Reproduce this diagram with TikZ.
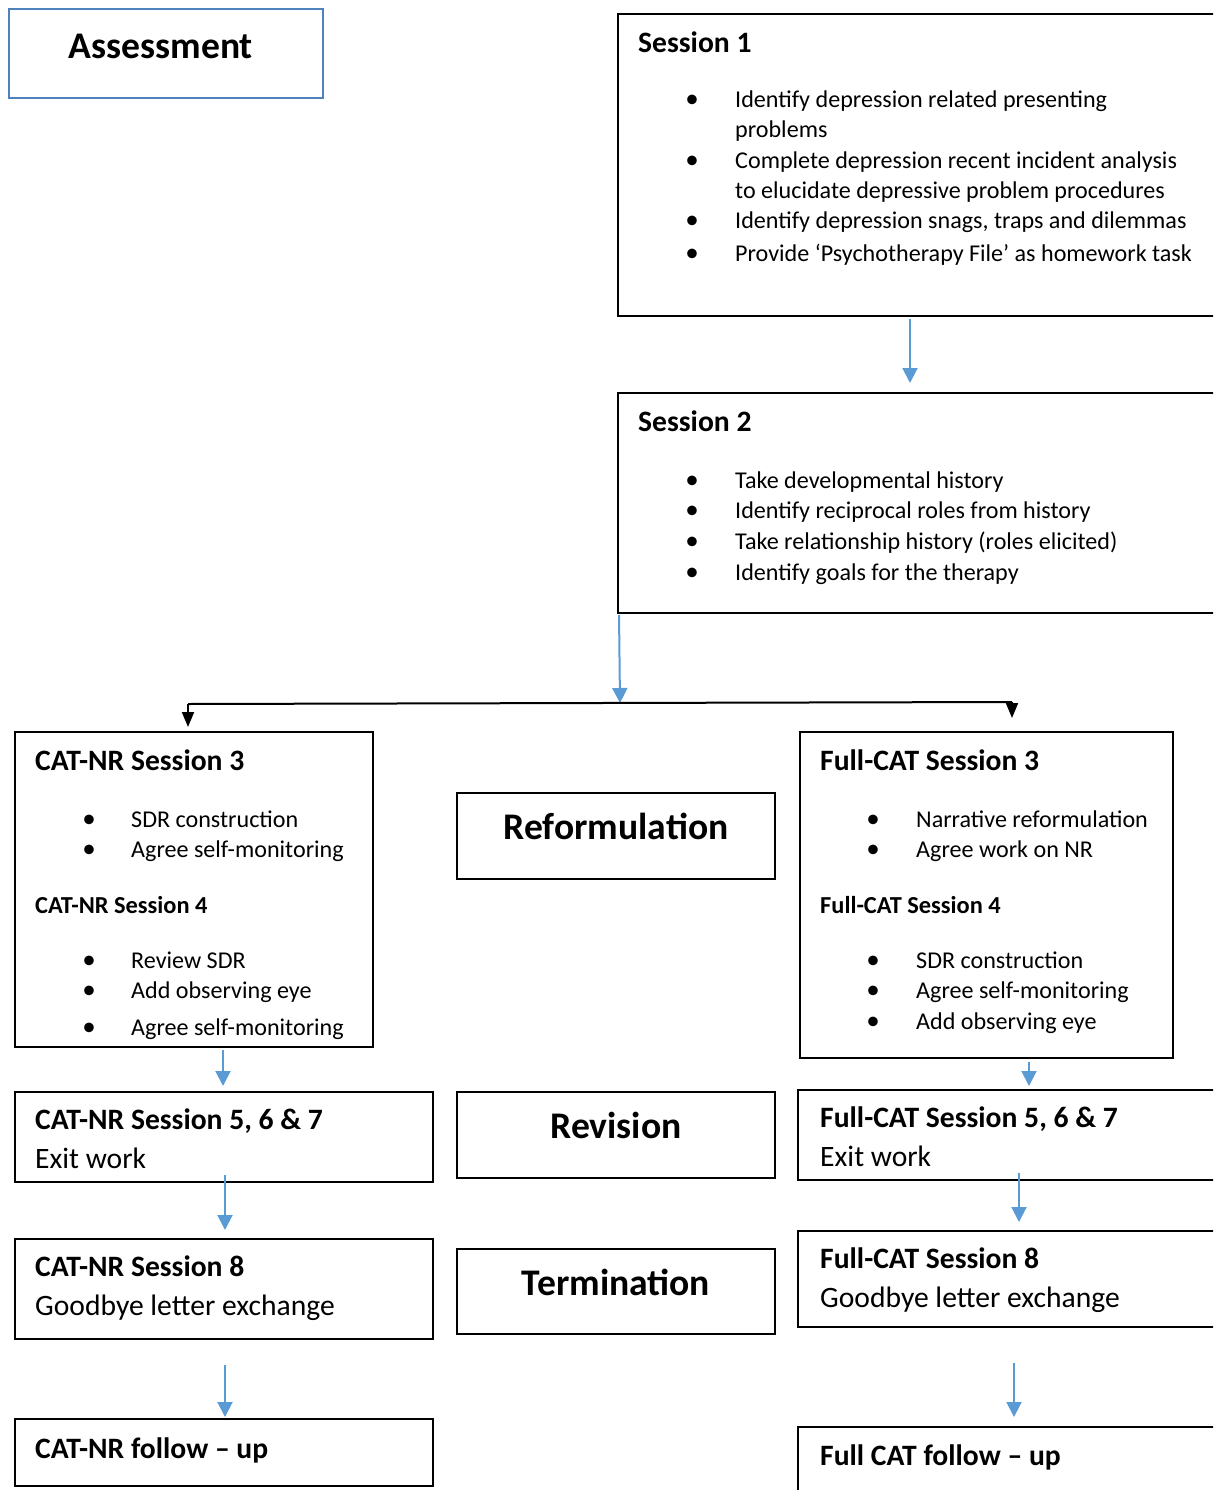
\documentclass[tikz,border=0pt]{standalone}
\usepackage{fontspec}
\setmainfont{Carlito}
\usetikzlibrary{arrows.meta}
\definecolor{arrowblue}{HTML}{5B9BD5}
\definecolor{frameblue}{HTML}{4F81BD}
\begin{document}
\begin{tikzpicture}[x=1pt,y=-1pt,
  box/.style={draw=black, line width=1.3pt, rectangle, inner sep=0pt, outer sep=0pt, anchor=north west},
  headtext/.style={anchor=base west, inner sep=0pt, font=\fontsize{29.6}{34}\selectfont\bfseries},
  itemtext/.style={anchor=base west, inner sep=0pt, font=\fontsize{24.1}{29}\selectfont},
  subtext/.style={anchor=base west, inner sep=0pt, font=\fontsize{24.4}{29}\selectfont\bfseries},
  plaintext/.style={anchor=base west, inner sep=0pt, font=\fontsize{29.6}{34}\selectfont},
  titletext/.style={anchor=base, inner sep=0pt, font=\fontsize{37.6}{44}\selectfont\bfseries},
  bulletmark/.style={anchor=base, inner sep=0pt, font=\fontsize{27}{30}\selectfont},
  barrow/.style={draw=arrowblue, line width=2pt, -{Triangle[width=15pt,length=15pt]}},
  karrow/.style={draw=black, line width=2pt, -{Triangle[width=12pt,length=15pt]}},
  kline/.style={draw=black, line width=2pt},
]
\useasboundingbox (0,0) rectangle (1213,1490);
\clip (0,0) rectangle (1213,1490);

% boxes
\node[box, draw=frameblue, line width=2.5pt, minimum width=314pt, minimum height=89pt] (ass) at (9,9) {};
\node[box, minimum width=700pt, minimum height=302pt] (s1) at (618,14) {};
\node[box, minimum width=700pt, minimum height=220pt] (s2) at (618,393) {};
\node[box, minimum width=358pt, minimum height=315pt] (l3) at (15,732) {};
\node[box, minimum width=318pt, minimum height=86pt] (rf) at (457,793) {};
\node[box, minimum width=373pt, minimum height=326pt] (r3) at (800,732) {};
\node[box, minimum width=418pt, minimum height=90pt] (l5) at (15,1092) {};
\node[box, minimum width=318pt, minimum height=86pt] (rv) at (457,1092) {};
\node[box, minimum width=500pt, minimum height=90pt] (r5) at (798,1090) {};
\node[box, minimum width=418pt, minimum height=100pt] (l8) at (15,1239) {};
\node[box, minimum width=318pt, minimum height=85pt] (tm) at (457,1249) {};
\node[box, minimum width=500pt, minimum height=96pt] (r8) at (798,1231) {};
\node[box, minimum width=418pt, minimum height=67pt] (lf) at (15,1419) {};
\node[box, minimum width=500pt, minimum height=100pt] (rfu) at (798,1427) {};

% titles
\node[titletext] (tAss) at (161,59) {Assessment};
\node[titletext] (tRf) at (616,839) {Reformulation};
\node[titletext] (tRv) at (616,1138) {Revision};
\node[titletext] (tTm) at (616,1295) {Termination};

% Session 1
\node[headtext] (h1) at (638,52.5) {Session 1};
\foreach \yy in {108,168,228,261} \node[bulletmark] at (692,\yy) {•};
\node[itemtext] (a1) at (735,108) {Identify depression related presenting};
\node[itemtext] (a2) at (735,138) {problems};
\node[itemtext] (a3) at (735,168) {Complete depression recent incident analysis};
\node[itemtext] (a4) at (735,198) {to elucidate depressive problem procedures};
\node[itemtext] (a5) at (735,228) {Identify depression snags, traps and dilemmas};
\node[itemtext] (a6) at (735,261) {Provide ‘Psychotherapy File’ as homework task};

% Session 2
\node[headtext] (h2) at (638,431.5) {Session 2};
\foreach \yy in {488,518,549,580} \node[bulletmark] at (692,\yy) {•};
\node[itemtext] (b1) at (735,488) {Take developmental history};
\node[itemtext] (b2) at (735,518) {Identify reciprocal roles from history};
\node[itemtext] (b3) at (735,549) {Take relationship history (roles elicited)};
\node[itemtext] (b4) at (735,580) {Identify goals for the therapy};

% CAT-NR Session 3/4
\node[headtext] (hl3) at (35,770.5) {CAT-NR Session 3};
\foreach \yy in {827,857,968,998,1035} \node[bulletmark] at (89,\yy) {•};
\node[itemtext] at (131,827) {SDR construction};
\node[itemtext] at (131,857) {Agree self-monitoring};
\node[subtext] (hl4) at (35,913) {CAT-NR Session 4};
\node[itemtext] at (131,968) {Review SDR};
\node[itemtext] at (131,998) {Add observing eye};
\node[itemtext] at (131,1035) {Agree self-monitoring};

% Full-CAT Session 3/4
\node[headtext] (hr3) at (820,770.5) {Full-CAT Session 3};
\foreach \yy in {827,857,968,998,1029} \node[bulletmark] at (873,\yy) {•};
\node[itemtext] at (916,827) {Narrative reformulation};
\node[itemtext] at (916,857) {Agree work on NR};
\node[subtext] (hr4) at (820,913) {Full-CAT Session 4};
\node[itemtext] at (916,968) {SDR construction};
\node[itemtext] at (916,998) {Agree self-monitoring};
\node[itemtext] at (916,1029) {Add observing eye};

% lower boxes text
\node[headtext] at (35,1129.5) {CAT-NR Session 5, 6 \& 7};
\node[plaintext] at (35,1168.5) {Exit work};
\node[headtext] at (820,1127.5) {Full-CAT Session 5, 6 \& 7};
\node[plaintext] at (820,1166.5) {Exit work};
\node[headtext] at (35,1276.5) {CAT-NR Session 8};
\node[plaintext] at (35,1315.5) {Goodbye letter exchange};
\node[headtext] at (820,1268.5) {Full-CAT Session 8};
\node[plaintext] at (820,1307.5) {Goodbye letter exchange};
\node[headtext] at (35,1458.5) {CAT-NR follow -- up};
\node[headtext] at (820,1465.5) {Full CAT follow -- up};

% connectors
\draw[barrow, shorten <=3pt, shorten >=10pt] ([xshift=292pt]s1.south west) -- ([xshift=292pt]s1.south west |- s2.north);
\coordinate (hub) at (620,703);
\draw[barrow, shorten <=2pt] ([xshift=1pt]s2.south west) -- (hub);
\coordinate (jl) at (188,704);
\coordinate (jr) at (1012,702);
\draw[kline] (jl) -- (jr);
\draw[karrow] (jl) -- ([yshift=5pt]jl |- l3.north);
\draw[karrow] (jr) -- ([yshift=14pt]jr |- r3.north);
\draw[barrow, shorten <=3pt, shorten >=6pt] ([xshift=208pt]l3.south west) -- ([xshift=208pt]l3.south west |- l5.north);
\draw[barrow, shorten <=4pt, shorten >=4pt] ([xshift=229pt]r3.south west) -- ([xshift=229pt]r3.south west |- r5.north);
\draw[barrow, shorten <=-7pt, shorten >=9pt] ([xshift=210pt]l5.south west) -- ([xshift=210pt]l5.south west |- l8.north);
\draw[barrow, shorten <=-7pt, shorten >=9pt] ([xshift=221pt]r5.south west) -- ([xshift=221pt]r5.south west |- r8.north);
\draw[barrow, shorten <=26pt, shorten >=2pt] ([xshift=210pt]l8.south west) -- ([xshift=210pt]l8.south west |- lf.north);
\draw[barrow, shorten <=36pt, shorten >=10pt] ([xshift=216pt]r8.south west) -- ([xshift=216pt]r8.south west |- rfu.north);
\end{tikzpicture}
\end{document}
